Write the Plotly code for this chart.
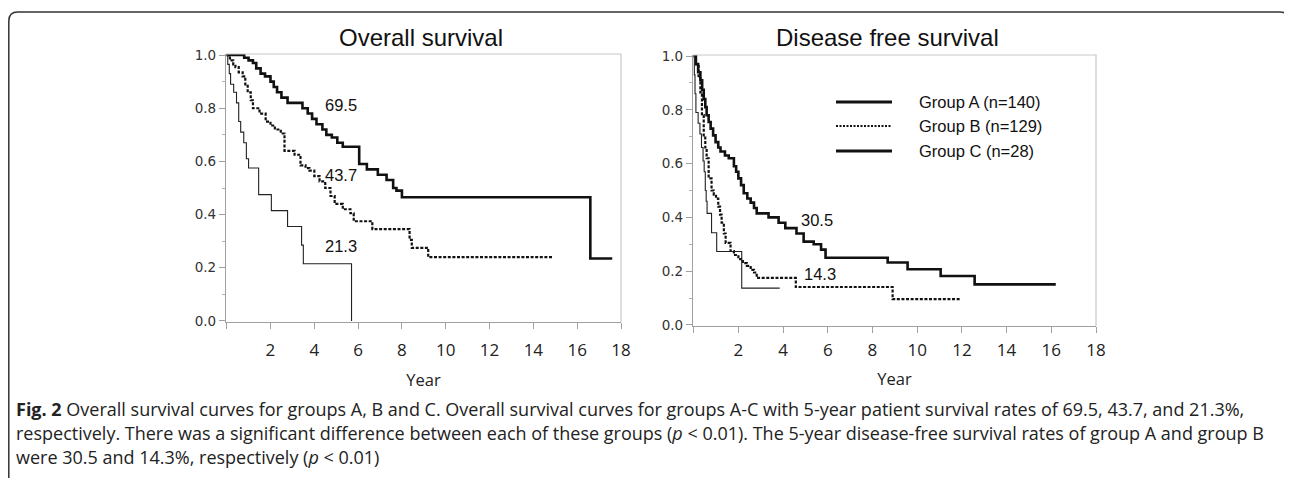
import plotly.graph_objects as go

# ---- data (time in years, survival proportion) ----
os_a_t = [0, 0.8, 1.0, 1.2, 1.35, 1.55, 1.75, 2.0, 2.15, 2.3, 2.5, 2.78, 3.46, 3.7, 3.9, 4.1,
          4.37, 4.55, 4.8, 5.05, 5.3, 6.05, 6.4, 6.9, 7.3, 7.6, 7.75, 8.0, 16.6, 17.6]
os_a_s = [1.0, 0.99, 0.98, 0.97, 0.95, 0.93, 0.92, 0.90, 0.88, 0.86, 0.84, 0.82, 0.80, 0.78, 0.76, 0.74,
          0.72, 0.70, 0.69, 0.67, 0.655, 0.59, 0.57, 0.55, 0.53, 0.50, 0.49, 0.465, 0.235, 0.235]

os_b_t = [0, 0.15, 0.3, 0.4, 0.55, 0.73, 0.85, 0.96, 1.1, 1.2, 1.5, 1.78, 2.0, 2.2, 2.47, 2.64,
          3.1, 3.37, 3.6, 3.78, 4.0, 4.24, 4.5, 4.74, 4.93, 5.3, 5.65, 5.8, 6.65, 8.35, 8.45, 9.2, 14.9]
os_b_s = [1.0, 0.98, 0.965, 0.955, 0.935, 0.92, 0.89, 0.86, 0.83, 0.80, 0.78, 0.75, 0.735, 0.72, 0.705, 0.64,
          0.625, 0.585, 0.575, 0.565, 0.545, 0.525, 0.50, 0.47, 0.44, 0.42, 0.405, 0.375, 0.345, 0.305, 0.275, 0.24, 0.24]

os_c_t = [0, 0.05, 0.12, 0.18, 0.32, 0.45, 0.55, 0.64, 0.78, 0.9, 1.0, 1.46, 2.04, 2.78, 3.42, 3.5, 5.7]
os_c_s = [1.0, 0.965, 0.93, 0.89, 0.86, 0.82, 0.75, 0.71, 0.67, 0.61, 0.575, 0.475, 0.415, 0.355, 0.285, 0.215, 0.0]

dfs_a_t = [0, 0.1, 0.2, 0.3, 0.38, 0.45, 0.52, 0.58, 0.67, 0.76, 0.87, 0.98, 1.1, 1.2, 1.4, 1.57,
           1.8, 1.9, 2.0, 2.12, 2.24, 2.4, 2.55, 2.7, 2.82, 3.35, 3.8, 4.1, 4.6, 4.92, 5.37, 5.7, 5.9,
           8.68, 9.57, 11.05, 12.57, 16.2]
dfs_a_s = [1.0, 0.97, 0.94, 0.91, 0.875, 0.84, 0.81, 0.78, 0.755, 0.73, 0.705, 0.68, 0.66, 0.645, 0.63, 0.62,
           0.59, 0.57, 0.545, 0.52, 0.49, 0.47, 0.455, 0.435, 0.415, 0.40, 0.38, 0.36, 0.34, 0.31, 0.30, 0.28, 0.25,
           0.232, 0.207, 0.182, 0.151, 0.151]

dfs_b_t = [0, 0.1, 0.22, 0.3, 0.37, 0.45, 0.52, 0.58, 0.67, 0.8, 0.9, 1.0, 1.1, 1.18, 1.25, 1.35,
           1.43, 1.65, 1.8, 2.0, 2.2, 2.38, 2.55, 2.7, 2.82, 4.57, 8.9, 11.95]
dfs_b_s = [1.0, 0.97, 0.925, 0.865, 0.78, 0.705, 0.66, 0.62, 0.545, 0.50, 0.485, 0.47, 0.44, 0.41, 0.38, 0.34,
           0.305, 0.275, 0.26, 0.245, 0.23, 0.22, 0.205, 0.195, 0.175, 0.141, 0.096, 0.096]

dfs_c_t = [0, 0.03, 0.06, 0.1, 0.2, 0.28, 0.35, 0.42, 0.47, 0.52, 0.56, 0.6, 0.8, 1.03, 2.15, 3.85]
dfs_c_s = [1.0, 0.93, 0.86, 0.79, 0.75, 0.71, 0.66, 0.61, 0.57, 0.50, 0.46, 0.415, 0.343, 0.273, 0.137, 0.137]

group_names = ["Group A (n=140)", "Group B (n=129)", "Group C (n=28)"]
os_labels = ["69.5", "43.7", "21.3"]
dfs_labels = ["30.5", "14.3"]

# the page body has an 8px margin, so the figure is sized to fit the window
OFF = 8
W, H = 1292 - OFF, 478 - OFF
def px(x): return (x - OFF) / W          # x given in window pixels
def py(y): return 1 - (y - OFF) / H      # y given in window pixels

styles = [dict(color="#111", width=2.6),
          dict(color="#111", width=2.2, dash="3px,1.6px"),
          dict(color="#222", width=1.1)]

fig = go.Figure()
for (t, s), st in zip([(os_a_t, os_a_s), (os_b_t, os_b_s), (os_c_t, os_c_s)], styles):
    fig.add_trace(go.Scatter(x=t, y=s, mode="lines", line=dict(shape="hv", **st),
                             xaxis="x", yaxis="y", showlegend=False, hoverinfo="skip"))
for (t, s), st in zip([(dfs_a_t, dfs_a_s), (dfs_b_t, dfs_b_s), (dfs_c_t, dfs_c_s)], styles):
    fig.add_trace(go.Scatter(x=t, y=s, mode="lines", line=dict(shape="hv", **st),
                             xaxis="x2", yaxis="y2", showlegend=False, hoverinfo="skip"))

xticks = list(range(0, 20, 2))
xtext = [""] + [str(v) for v in xticks[1:]]
ytick = [0, 0.2, 0.4, 0.6, 0.8, 1.0]

def xax(dom, anchor, lab_off, title_off):
    return dict(domain=dom, anchor=anchor, range=[-0.03, 18], tickvals=xticks, ticktext=xtext,
                automargin=False,
                showgrid=False, zeroline=False, showline=True, linecolor="#a0a0a0", linewidth=1.3,
                ticks="outside", ticklen=6, tickcolor="#a0a0a0", ticklabelstandoff=lab_off,
                tickfont=dict(family="Open Sans", size=17, color="#222"),
                title=dict(text="Year", font=dict(family="Open Sans", size=16.5, color="#222"),
                           standoff=title_off))

def yax(dom, anchor):
    return dict(domain=dom, anchor=anchor, range=[-0.004, 1.004], tickvals=ytick,
                ticktext=[f"{v:.1f}" for v in ytick], automargin=False,
                showgrid=False, zeroline=False, showline=True, linecolor="#a0a0a0", linewidth=1.3,
                ticks="outside", ticklen=6, tickcolor="#a0a0a0",
                minor=dict(tickvals=[0.1, 0.3, 0.5, 0.7, 0.9], ticks="outside", ticklen=3, tickcolor="#b0b0b0"),
                tickfont=dict(family="DejaVu Sans", size=13.5, color="#333"))

shapes = []
# light top/right frame of each panel
for xr, yr in [("x domain", "y domain"), ("x2 domain", "y2 domain")]:
    shapes.append(dict(type="path", xref=xr, yref=yr, path="M 0,1 L 1,1 L 1,0",
                       line=dict(color="#c8c8c8", width=1.2)))

# legend samples (right panel)
leg_y = [102, 126, 151]
leg_styles = [dict(color="#111", width=3), dict(color="#111", width=2, dash="2px,1.5px"),
              dict(color="#111", width=3)]
for yy, st in zip(leg_y, leg_styles):
    shapes.append(dict(type="line", xref="paper", yref="paper", x0=px(836), x1=px(892),
                       y0=py(yy), y1=py(yy), line=st))

# rounded outer frame (left edge sits just inside the figure)
x0, x1, y0, rx, ry = 0.8 / W, px(1289), py(12), 9 / W, 9 / H
shapes.append(dict(type="path", xref="paper", yref="paper",
                   path=f"M {x0},-0.1 L {x0},{y0 - ry} Q {x0},{y0} {x0 + rx},{y0} "
                        f"L {x1 - rx},{y0} Q {x1},{y0} {x1},{y0 - ry} L {x1},-0.1",
                   line=dict(color="#333", width=1.5)))

ann = []
title_font = dict(family="Liberation Sans", size=24, color="#111")
ann.append(dict(text="Overall survival", x=px(421), y=py(38), xref="paper", yref="paper",
                xanchor="center", yanchor="middle", showarrow=False, font=title_font))
ann.append(dict(text="Disease free survival", x=px(887), y=py(38), xref="paper", yref="paper",
                xanchor="center", yanchor="middle", showarrow=False, font=title_font))

lab_font = dict(family="Liberation Sans", size=16.5, color="#111")
for txt, yv in zip(os_labels, [0.813, 0.549, 0.28]):
    ann.append(dict(text=txt, x=5.24, y=yv, xref="x", yref="y", showarrow=False,
                    xanchor="center", yanchor="middle", font=lab_font))
for txt, xv, yv in zip(dfs_labels, [5.5, 5.64], [0.391, 0.188]):
    ann.append(dict(text=txt, x=xv, y=yv, xref="x2", yref="y2", showarrow=False,
                    xanchor="center", yanchor="middle", font=lab_font))

for name, yy in zip(group_names, leg_y):
    ann.append(dict(text=name, x=px(917), y=py(yy), xref="paper", yref="paper",
                    xanchor="left", yanchor="middle", showarrow=False, font=lab_font))

caption = [
    "<b>Fig. 2</b> Overall survival curves for groups A, B and C. Overall survival curves for groups A-C "
    "with 5-year patient survival rates of 69.5, 43.7, and 21.3%,",
    "respectively. There was a significant difference between each of these groups (<i>p</i> &lt; 0.01). "
    "The 5-year disease-free survival rates of group A and group B",
    "were 30.5 and 14.3%, respectively (<i>p</i> &lt; 0.01)",
]
for line, yy in zip(caption, [409, 433, 457]):
    ann.append(dict(text=line, x=px(14), y=py(yy), xref="paper", yref="paper",
                    xanchor="left", yanchor="middle", showarrow=False,
                    font=dict(family="Open Sans", size=18, color="#222")))

fig.update_layout(
    width=W, height=H, margin=dict(l=0, r=0, t=0, b=0, autoexpand=False),
    paper_bgcolor="white", plot_bgcolor="white",
    xaxis=xax([px(226), px(621)], "y", 6, 14), yaxis=yax([py(322), py(54)], "x"),
    xaxis2=xax([px(693), px(1096)], "y2", 2, 13), yaxis2=yax([py(326), py(55)], "x2"),
    shapes=shapes, annotations=ann,
)

fig.write_html("out.html")
